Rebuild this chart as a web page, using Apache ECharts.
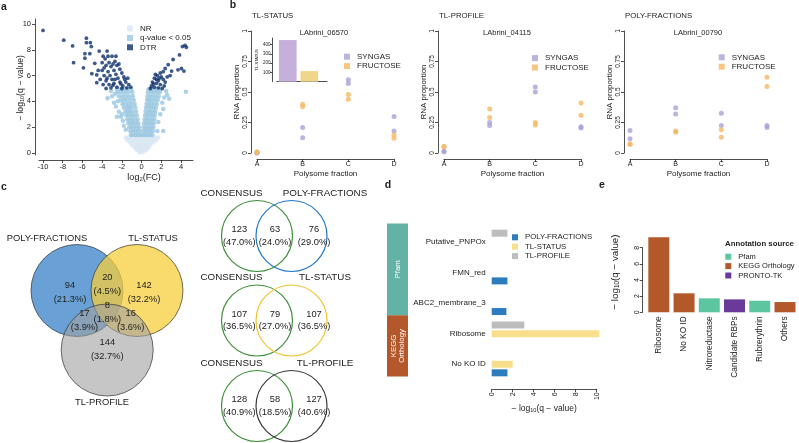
<!DOCTYPE html>
<html>
<head>
<meta charset="utf-8">
<script src="https://cdn.jsdelivr.net/npm/echarts@6/dist/echarts.min.js"></script>
<style>
  html, body { margin: 0; padding: 0; background: #fff; }
  #chart { width: 799px; height: 443px; }
</style>
</head>
<body>
<div id="chart"></div>
<script>
// ---- a: volcano (log2 FC, -log10 q) ----
const nrPoints = [
  [-1.6,1.2],[-1.3,1.2],[-1.0,1.2],[-0.7,1.2],[-0.4,1.2],[-0.1,1.2],[0.2,1.2],[0.5,1.2],[0.8,1.2],[1.1,1.2],[1.4,1.2],[1.7,1.2],
  [-1.45,1.0],[-1.15,1.0],[-0.85,1.0],[-0.55,1.0],[-0.25,1.0],[0.05,1.0],[0.35,1.0],[0.65,1.0],[0.95,1.0],[1.25,1.0],[1.5,1.0],
  [-1.2,0.8],[-0.9,0.8],[-0.6,0.8],[-0.3,0.8],[0,0.8],[0.3,0.8],[0.6,0.8],[0.9,0.8],[1.2,0.8],
  [-0.95,0.6],[-0.65,0.6],[-0.35,0.6],[-0.05,0.6],[0.25,0.6],[0.55,0.6],[0.85,0.6],
  [-0.7,0.4],[-0.4,0.4],[-0.1,0.4],[0.2,0.4],[0.5,0.4],[0.7,0.4],
  [-0.45,0.2],[-0.15,0.2],[0.15,0.2],[0.45,0.2],
  [-0.2,0.05],[0.1,0.05]
];
const qPoints = [
  [-1.1,1.4],[-0.85,1.4],[-0.6,1.4],[-0.35,1.4],[-0.12,1.4],[0.12,1.4],[0.35,1.4],[0.6,1.4],[0.85,1.4],[1.1,1.4],
  [-1.15,1.7],[-0.9,1.7],[-0.65,1.7],[-0.4,1.7],[-0.18,1.7],[0.18,1.7],[0.4,1.7],[0.65,1.7],[0.9,1.7],[1.15,1.7],
  [-1.25,2.0],[-1.0,2.0],[-0.75,2.0],[-0.5,2.0],[-0.25,2.0],[0.2,2.0],[0.45,2.0],[0.7,2.0],[0.95,2.0],[1.2,2.0],
  [-1.35,2.3],[-1.1,2.3],[-0.85,2.3],[-0.6,2.3],[-0.32,2.3],[0.25,2.3],[0.5,2.3],[0.75,2.3],[1.0,2.3],[1.25,2.3],
  [-1.45,2.6],[-1.2,2.6],[-0.95,2.6],[-0.7,2.6],[-0.4,2.6],[0.3,2.6],[0.55,2.6],[0.8,2.6],[1.05,2.6],[1.3,2.6],
  [-1.55,2.9],[-1.3,2.9],[-1.05,2.9],[-0.8,2.9],[-0.48,2.9],[0.35,2.9],[0.6,2.9],[0.85,2.9],[1.1,2.9],[1.35,2.9],
  [-1.65,3.2],[-1.4,3.2],[-1.15,3.2],[-0.9,3.2],[-0.55,3.2],[0.4,3.2],[0.65,3.2],[0.9,3.2],[1.15,3.2],[1.4,3.2],
  [-1.8,3.5],[-1.5,3.5],[-1.25,3.5],[-1.0,3.5],[-0.62,3.5],[0.45,3.5],[0.7,3.5],[0.95,3.5],[1.2,3.5],[1.45,3.5],
  [-1.95,3.8],[-1.65,3.8],[-1.35,3.8],[-1.05,3.8],[-0.7,3.8],[0.5,3.8],[0.75,3.8],[1.0,3.8],[1.25,3.8],[1.55,3.8],
  [-2.1,4.1],[-1.8,4.1],[-1.5,4.1],[-1.15,4.1],[-0.8,4.1],[0.55,4.1],[0.8,4.1],[1.05,4.1],[1.35,4.1],[1.65,4.1],
  [-2.3,4.4],[-1.95,4.4],[-1.6,4.4],[-1.25,4.4],[-0.88,4.4],[0.6,4.4],[0.85,4.4],[1.15,4.4],[1.45,4.4],[1.75,4.4],
  [-2.45,4.7],[-2.1,4.7],[-1.75,4.7],[-1.4,4.7],[-0.95,4.7],[0.65,4.7],[0.95,4.7],[1.25,4.7],[1.55,4.7],[1.85,4.7],
  [-2.5,4.95],[-2.15,4.95],[-1.8,4.95],[-1.45,4.95],[-1.05,4.95],[0.7,4.95],[1.0,4.95],[1.3,4.95],[1.6,4.95],[1.9,4.95],
  [-3.45,4.25],[-3.0,4.4],[-2.8,3.9],[-2.6,3.6],[-2.3,3.2],[-2.1,2.8],[-1.9,2.5],[-1.8,2.1],[-2.4,4.0],[-3.1,4.8],
  [-2.7,4.6],[-2.0,3.0],[-1.6,1.8],[-2.5,2.8],
  [4.5,4.75],[2.5,4.8],[2.3,4.3],[2.1,3.9],[2.6,4.5],[1.9,3.0],[1.7,2.4],[2.2,3.4],[1.6,1.7],[2.8,4.2],[2.2,1.7]
];
const dtrPoints = [
  [-10,9.5],[-7.9,8.75],[-7,8.3],[-6.9,7],[-5.9,6.6],[-5.6,8.9],[-5.2,8.55],[-5.6,8.55],[-5.1,8.25],[-5.75,7.7],
  [-5.25,7.7],[-5.75,7.35],[-4.3,7.9],[-4.75,6.95],[-5.05,6.15],[-4.55,6.05],[-4.55,5.45],
  [-3.9,7.5],[-3.7,7.3],[-3.4,7.5],[-3.0,7.5],[-2.7,7.1],[-3.3,7.0],[-4.0,7.0],[-3.6,6.8],[-3.1,6.7],[-2.5,6.8],
  [-2.2,6.5],[-2.8,6.4],[-3.4,6.3],[-4.0,6.4],[-3.8,6.0],[-3.2,6.0],[-2.6,6.1],[-2.0,6.2],[-1.8,5.9],[-2.4,5.8],
  [-3.0,5.7],[-3.6,5.6],[-4.2,5.7],[-3.9,5.3],[-3.3,5.3],[-2.8,5.4],[-2.2,5.5],[-1.6,5.5],[-1.3,5.3],[-1.9,5.2],
  [-2.5,5.1],[-3.1,5.05],[-3.6,5.0],[-2.0,5.0],[-1.5,5.05],[-1.1,5.1],[-2.7,5.7],[-1.7,5.7],[-2.9,6.9],[-3.8,6.6],
  [-4.4,6.4],[-2.3,6.9],[-3.5,7.9],[-2.6,7.5],[-1.4,5.8],[-2.1,5.35],[-2.9,5.25],[-3.5,5.8],
  [4.4,8.35],[4.15,8.25],[4.55,8.2],[3.85,7.6],[3.2,7.25],[2.7,6.85],[4.05,6.55],[4.3,6.35],[3.7,6.45],[2.4,6.55],
  [3.05,6.35],[2.2,6.3],[1.9,6.2],[1.6,6.0],[2.0,5.9],[1.3,5.8],[1.7,5.6],[2.2,5.7],[1.1,5.5],[1.5,5.4],[1.9,5.3],
  [2.4,5.5],[1.0,5.2],[1.3,5.1],[1.7,5.05],[2.1,5.0],[0.9,5.0],[1.5,5.7],[2.6,5.9],[1.2,5.35],[1.8,5.8],[2.3,5.2],
  [2.9,6.0],[1.4,6.1]
];
const volcanoXTicks = [-10, -8, -6, -4, -2, 0, 2, 4];
const volcanoYTicks = [0, 2, 4, 6, 8, 10];

// ---- b: polysome profiles (two replicates per fraction) ----
const fractions = ['A', 'B', 'C', 'D'];
const profileTitles = ['TL-STATUS', 'TL-PROFILE', 'POLY-FRACTIONS'];
const geneNames = ['LAbrini_06570', 'LAbrini_04115', 'LAbrini_00790'];
const syngas06570   = [[0.00, 0.005], [0.21, 0.125], [0.60, 0.57], [0.30, 0.18]];
const fructose06570 = [[0.01, 0.005], [0.40, 0.38], [0.48, 0.44], [0.15, 0.12]];
const syngas04115   = [[0.01, 0.015], [0.25, 0.225], [0.54, 0.50], [0.215, 0.205]];
const fructose04115 = [[0.055, 0.05], [0.36, 0.29], [0.25, 0.23], [0.41, 0.31]];
const syngas00790   = [[0.185, 0.117], [0.37, 0.32], [0.325, 0.225], [0.225, 0.21]];
const fructose00790 = [[0.075, 0.07], [0.18, 0.17], [0.19, 0.13], [0.62, 0.545]];
const insetConditions = ['SYNGAS', 'FRUCTOSE'];
const insetCounts = [448, 114];
const insetTicks = [100, 200, 300, 400];

// ---- c: venn diagrams ----
const vennSets = ['POLY-FRACTIONS', 'TL-STATUS', 'TL-PROFILE'];
// regions: PF only, PF&TS, TS only, PF&TP, all, TS&TP, TP only
const vennCounts = [94, 20, 142, 17, 8, 16, 144];
const vennPct = [21.3, 4.5, 32.2, 3.9, 1.8, 3.6, 32.7];
const pairCounts = [[123, 63, 76], [107, 79, 107], [128, 58, 127]];
const pairPct = [[47.0, 24.0, 29.0], [36.5, 27.0, 36.5], [40.9, 18.5, 40.6]];

// ---- d: enrichment per approach ----
const enrichTerms = ['Putative_PNPOx', 'FMN_red', 'ABC2_membrane_3', 'Ribosome', 'No KO ID'];
const enrichSource = ['Pfam', 'Pfam', 'Pfam', 'KEGG\nOrthology', 'KEGG\nOrthology'];
const polyFractionsQ = [null, 1.5, 1.4, null, 1.5];
const tlStatusQ = [null, null, null, 10.25, 2.0];
const tlProfileQ = [1.5, null, null, 3.1, null];

// ---- e: consensus enrichment ----
const summaryTerms = ['Ribosome', 'No KO ID', 'Nitroreductase', 'Candidate RBPs', 'Rubrerythrin', 'Others'];
const summaryQ = [9.28, 2.35, 1.73, 1.6, 1.43, 1.27];
const summarySource = ['KEGG Orthology', 'KEGG Orthology', 'Pfam', 'PRONTO-TK', 'Pfam', 'KEGG Orthology'];
const sourceNames = ['Pfam', 'KEGG Orthology', 'PRONTO-TK'];

const FONT = '"Liberation Sans", Arial, Helvetica, sans-serif';
const INK = '#222';
const SYN = '#a9a1d6';
const FRU = '#f6b862';
const approachColors = { 'POLY-FRACTIONS': '#2e7cc0', 'TL-STATUS': '#f9df8c', 'TL-PROFILE': '#bdbdbd' };
const sourceColors = { 'Pfam': '#5cc6a0', 'KEGG Orthology': '#b3582b', 'PRONTO-TK': '#6a3a9b' };
const sideColors = { 'Pfam': '#63b2a6', 'KEGG\nOrthology': '#b3582b' };

const line = { show: true, onZero: false, lineStyle: { color: INK, width: 0.8 } };
const tick = (extra) => Object.assign({ show: true, length: 3, lineStyle: { color: INK, width: 0.8 } }, extra || {});
const label = (extra) => Object.assign({ color: INK, fontSize: 7, margin: 3, fontFamily: FONT }, extra || {});
const nameStyle = (size) => ({ color: INK, fontSize: size, fontFamily: FONT });
const logRich = (size) => ({
  t: { fontSize: size, color: INK, fontFamily: FONT },
  s: { fontSize: size * 0.65, color: INK, fontFamily: FONT, padding: [size * 0.5, 0, 0, 0] }
});
const LOGQ = '{t|− log}{s|10}{t|(q − value)}';

const chart = echarts.init(document.getElementById('chart'));

const bLeft = [257, 444, 630];
const bSyn = [syngas06570, syngas04115, syngas00790];
const bFru = [fructose06570, fructose04115, fructose00790];
const toPoints = (reps) => reps.flatMap((vals, i) => vals.map(v => [i, v]));

const grids = [
  { left: 39, top: 19, width: 154, height: 136 },
  ...bLeft.map(l => ({ left: l, top: 31, width: 137, height: 122 })),
  { left: 277, top: 38, width: 50, height: 43.7 },
  { left: 491.7, top: 226.4, width: 105, height: 153.2 },
  { left: 646.2, top: 247.7, width: 151.4, height: 64.6 }
];

const xAxes = [
  { gridIndex: 0, type: 'value', min: -10.41, max: 5.22, offset: 5, splitLine: { show: false },
    axisLine: line, axisTick: tick({ customValues: volcanoXTicks }),
    axisLabel: label({ customValues: volcanoXTicks, fontSize: 7.5 }) },
  ...bLeft.map((l, k) => ({ gridIndex: 1 + k, type: 'category', data: fractions, boundaryGap: false, offset: 6,
    axisLine: line, axisTick: tick(), axisLabel: label({ fontSize: 7, margin: 2 }),
    name: 'Polysome fraction', nameLocation: 'middle', nameGap: 11, nameTextStyle: nameStyle(8) })),
  { gridIndex: 4, type: 'value', min: 0, max: 2.32, splitLine: { show: false },
    axisLine: line, axisTick: { show: false }, axisLabel: { show: false } },
  { gridIndex: 5, type: 'value', min: 0, max: 10, interval: 2, offset: 9.7, splitLine: { show: false },
    axisLine: line, axisTick: tick(), axisLabel: label({ rotate: 90, fontSize: 7 }),
    name: LOGQ, nameLocation: 'middle', nameGap: 5, nameTextStyle: { rich: logRich(8.5) } },
  { gridIndex: 6, type: 'category', data: summaryTerms, axisLine: { show: false }, axisTick: { show: false },
    axisLabel: label({ rotate: 90, fontSize: 8.3, margin: 4, interval: 0 }) }
];

const yAxes = [
  { gridIndex: 0, type: 'value', min: -0.16, max: 10.39, offset: 4, splitLine: { show: false },
    axisLine: line, axisTick: tick({ customValues: volcanoYTicks }),
    axisLabel: label({ customValues: volcanoYTicks, fontSize: 7.5, margin: 4 }) },
  ...bLeft.map((l, k) => ({ gridIndex: 1 + k, type: 'value', min: 0, max: 1, interval: 0.25, offset: 6,
    splitLine: { show: false }, axisLine: line, axisTick: tick(), axisLabel: label({ rotate: 90, fontSize: 6.5, margin: 2 }),
    name: 'RNA proportion', nameLocation: 'middle', nameGap: 9, nameTextStyle: nameStyle(8) })),
  { gridIndex: 4, type: 'value', min: 0, max: 470, offset: 5, splitLine: { show: false },
    axisLine: line, axisTick: tick({ length: 2, customValues: insetTicks }),
    axisLabel: label({ fontSize: 4.5, margin: 1.5, customValues: insetTicks }),
    name: 'TL-STATUS', nameLocation: 'middle', nameGap: 10, nameTextStyle: nameStyle(4) },
  { gridIndex: 5, type: 'category', inverse: true, data: enrichTerms, axisLine: { show: false }, axisTick: { show: false },
    axisLabel: label({ fontSize: 8, margin: 6 }) },
  { gridIndex: 6, type: 'value', min: 0, max: 8, interval: 2, offset: 3.5, splitLine: { show: false },
    axisLine: line, axisTick: tick(), axisLabel: label({ rotate: 90, fontSize: 7, margin: 2 }) }
];

const series = [
  { type: 'scatter', name: 'NR', xAxisIndex: 0, yAxisIndex: 0, data: nrPoints, symbolSize: 4.5, itemStyle: { color: '#d9e6f2' }, silent: true },
  { type: 'scatter', name: 'q-value < 0.05', xAxisIndex: 0, yAxisIndex: 0, data: qPoints, symbolSize: 4.5, itemStyle: { color: '#98c6e0' }, silent: true },
  { type: 'scatter', name: 'DTR', xAxisIndex: 0, yAxisIndex: 0, data: dtrPoints, symbolSize: 3.8, itemStyle: { color: '#0c2f6b' }, silent: true },
  ...bLeft.flatMap((l, k) => [
    { type: 'scatter', name: 'SYNGAS', xAxisIndex: 1 + k, yAxisIndex: 1 + k, data: toPoints(bSyn[k]), symbolSize: 5, itemStyle: { color: SYN } },
    { type: 'scatter', name: 'FRUCTOSE', xAxisIndex: 1 + k, yAxisIndex: 1 + k, data: toPoints(bFru[k]), symbolSize: 5, itemStyle: { color: FRU } }
  ]),
  { type: 'bar', name: 'inset', xAxisIndex: 4, yAxisIndex: 4, barWidth: 17.7,
    data: insetCounts.map((v, i) => ({ value: [i + 0.5, v], itemStyle: { color: ['#c5b0da', '#f0d68c'][i] } })) },
  ...[['TL-PROFILE', tlProfileQ], ['TL-STATUS', tlStatusQ], ['POLY-FRACTIONS', polyFractionsQ]].map(([n, d]) => ({
    type: 'bar', name: n, xAxisIndex: 5, yAxisIndex: 5, data: d, barWidth: 7, barGap: '22%', clip: false,
    itemStyle: { color: approachColors[n] } })),
  ...sourceNames.map(s => ({
    type: 'bar', name: s, xAxisIndex: 6, yAxisIndex: 6, barWidth: 21, barGap: '-100%', clip: false,
    data: summaryQ.map((v, i) => summarySource[i] === s ? v : null), itemStyle: { color: sourceColors[s] } }))
];

const legendBase = (size) => ({ orient: 'vertical', icon: 'rect', itemWidth: 6, itemHeight: 6, itemGap: 0.4, padding: 0,
  selectedMode: false,
  textStyle: { fontSize: size, lineHeight: 9, color: INK, fontFamily: FONT, padding: [0, 0, 0, 2] } });
const legends = [
  Object.assign({ left: 127, top: 24, data: ['NR', 'q-value < 0.05', 'DTR'] }, legendBase(8)),
  Object.assign({ left: 344, top: 52.2, data: ['SYNGAS', 'FRUCTOSE'] }, legendBase(8)),
  Object.assign({ left: 532, top: 53.6, data: ['SYNGAS', 'FRUCTOSE'] }, legendBase(8)),
  Object.assign({ left: 718.7, top: 52.8, data: ['SYNGAS', 'FRUCTOSE'] }, legendBase(8)),
  Object.assign({ left: 512, top: 232.8, data: ['POLY-FRACTIONS', 'TL-STATUS', 'TL-PROFILE'] }, legendBase(7.8)),
  Object.assign({ left: 725.3, top: 252.2, data: sourceNames }, legendBase(7.5))
];

// free text and venn shapes
const graphic = [];
function txt(x, y, text, o) {
  o = o || {};
  graphic.push({ type: 'text', x: x, y: y, rotation: o.rot || 0, silent: true, z: 10,
    style: { text: text, fontSize: o.size || 8, fontFamily: FONT, fontWeight: o.weight || 'normal',
      fill: o.color || INK, align: o.align || 'center', verticalAlign: 'middle', rich: o.rich } });
}
function circle(cx, cy, r, fill, stroke, w) {
  graphic.push({ type: 'circle', silent: true, z: 1, shape: { cx: cx, cy: cy, r: r },
    style: { fill: fill, stroke: stroke, lineWidth: w } });
}
const pct = v => '(' + v.toFixed(1) + '%)';

// panel letters
[['a', 4, 7], ['b', 233, 5], ['c', 4, 187], ['d', 388, 185], ['e', 602, 185]].forEach(([t, x, y]) => txt(x, y, t, { size: 10.5, weight: 'bold' }));

// a axis titles
txt(20.5, 88, LOGQ, { rot: Math.PI / 2, rich: logRich(8.6) });
txt(144, 177.5, '{t|log}{s|2}{t|(FC)}', { rich: logRich(9) });

// b titles
profileTitles.forEach((t, k) => txt(bLeft[k] - 5, 15.5, t, { size: 7.8, align: 'left' }));
[324, 507, 698].forEach((x, k) => txt(x, 32.5, geneNames[k], { size: 7.5 }));

// c: three-set venn
circle(77, 290.5, 46, 'rgba(55,130,200,0.75)', '#333', 0.7);
circle(137, 290.5, 46, 'rgba(245,205,60,0.75)', '#333', 0.7);
circle(107.2, 350, 46, 'rgba(160,160,160,0.6)', '#333', 0.7);
const vennLabelPos = [[70, 285], [107.3, 277.5], [144, 285], [84.5, 313.5], [107.3, 305], [130.7, 313.5], [107.3, 342]];
vennCounts.forEach((c, i) => {
  const [x, y] = vennLabelPos[i];
  txt(x, y, String(c), { size: 9.3 });
  txt(x, y + 14, pct(vennPct[i]), { size: 9.3 });
});
txt(47, 238, vennSets[0], { size: 9.4 });
txt(153, 238, vennSets[1], { size: 9.4 });
txt(102, 402, vennSets[2], { size: 9.4 });

// c: pairwise venns against consensus
const pairColors = ['#2176c7', '#f0c430', '#3b3b3b'];
[236, 320.5, 406].forEach((cy, r) => {
  circle(257, cy, 35.5, 'none', '#3f8f3a', 1.2);
  circle(291.5, cy, 35.5, 'none', pairColors[r], 1.2);
  [239.3, 275, 314].forEach((x, j) => {
    txt(x, cy - 6.3, String(pairCounts[r][j]), { size: 9.3 });
    txt(x, cy + 6.3, pct(pairPct[r][j]), { size: 9.3 });
  });
  txt(200.5, cy - 43, 'CONSENSUS', { size: 9.8, align: 'left' });
  txt(325, cy - 43, vennSets[r], { size: 9.8 });
});

// e legend title and axis title
txt(725, 243.5, 'Annotation source', { size: 7.8, weight: 'bold', align: 'left' });
txt(615, 272, LOGQ, { rot: Math.PI / 2, rich: logRich(9.8) });

chart.setOption({
  animation: false,
  textStyle: { fontFamily: FONT },
  grid: grids,
  xAxis: xAxes,
  yAxis: yAxes,
  legend: legends,
  series: series,
  graphic: graphic
});

// d: annotation-source side bar, spanning the category bands of each source
const band = 153.2 / enrichTerms.length;
const groups = [];
enrichSource.forEach((s, i) => {
  const yc = chart.convertToPixel({ yAxisIndex: 5 }, enrichTerms[i]);
  const g = groups[groups.length - 1];
  if (g && g.name === s) g.y1 = yc + band / 2;
  else groups.push({ name: s, y0: yc - band / 2, y1: yc + band / 2 });
});
groups.forEach(g => {
  graphic.push({ type: 'rect', silent: true, z: 1, shape: { x: 387, y: g.y0 - 3, width: 21, height: g.y1 - g.y0 },
    style: { fill: sideColors[g.name] } });
  txt(397.5, (g.y0 + g.y1) / 2 - 3, g.name, { rot: Math.PI / 2, size: 7.8, color: '#fff' });
});
chart.setOption({ graphic: graphic });
</script>
</body>
</html>
